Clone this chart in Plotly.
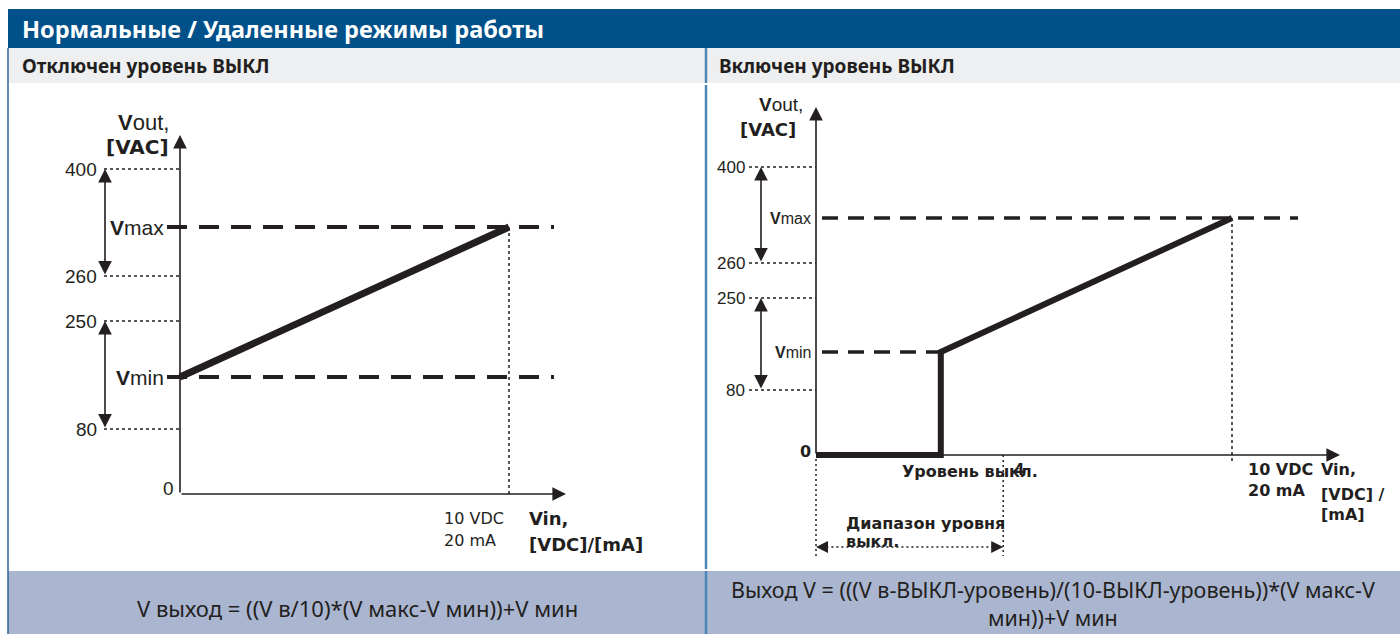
import plotly.graph_objects as go

W, H = 1400, 634
INK = "#231f20"
ARIAL = "Liberation Sans, Arial, sans-serif"
VERD = "DejaVu Sans, Verdana, sans-serif"
HUM = "Noto Sans, sans-serif"

# ---------------- data (schematic levels) ----------------
level_labels = ["400", "260", "250", "80"]
vmax_pair = ("400", "260")     # Vmax adjustable between these levels
vmin_pair = ("250", "80")      # Vmin adjustable between these levels

# left panel: OFF level disabled
left_level_pos = [325, 218, 173, 65]
left_vmin_pos, left_vmax_pos = 117, 267
left_vin = [0, 10]
left_vout = [left_vmin_pos, left_vmax_pos]

# right panel: OFF level enabled
right_level_pos = [288, 192, 157, 65]
right_vmin_pos, right_vmax_pos = 103, 237
vin_full = 10
off_level = 3
off_range_end = 4.5
right_vin = [0, off_level, off_level, vin_full]
right_vout = [0, 0, right_vmin_pos, right_vmax_pos]

header_title = "Нормальные / Удаленные режимы работы"
left_title = "Отключен уровень ВЫКЛ"
right_title = "Включен уровень ВЫКЛ"
left_formula = "V выход = ((V в/10)*(V макс-V мин))+V мин"
right_formula = "Выход V = (((V в-ВЫКЛ-уровень)/(10-ВЫКЛ-уровень))*(V макс-V<br>мин))+V мин"

# ---------------- panel geometry ----------------
L = dict(x0=180, xs=32.9, y0=494, dom=(0, 700), xa="x", ya="y")
R = dict(x0=816, xs=41.6, y0=455, dom=(700, 1400), xa="x2", ya="y2")


def px(P, p):  # horizontal pixel -> data
    return (p - P["x0"]) / P["xs"]


def py(P, p):  # vertical pixel -> data
    return P["y0"] - p


fig = go.Figure()


def line(P, xs, ys, width, dash="solid"):
    fig.add_trace(go.Scatter(x=xs, y=ys, xaxis=P["xa"], yaxis=P["ya"], mode="lines",
                             line=dict(color=INK, width=width, dash=dash),
                             hoverinfo="skip", showlegend=False))


ann = []


def text(P, x, y, t, size, family, xanchor="left", color=INK):
    ann.append(dict(x=x, y=y, xref=P["xa"], yref=P["ya"], text=t, showarrow=False,
                    xanchor=xanchor, yanchor="middle",
                    font=dict(size=size, family=family, color=color)))


def arrow(P, x, y, ax, ay, side="end", width=1.6, size=1.7):
    ann.append(dict(x=x, y=y, ax=ax, ay=ay, xref=P["xa"], yref=P["ya"],
                    axref=P["xa"], ayref=P["ya"], text="", showarrow=True,
                    arrowhead=2, arrowsize=size, arrowwidth=width, arrowcolor=INK,
                    arrowside=side, standoff=0, startstandoff=0))


# ================= LEFT PANEL =================
P = L
# axes
arrow(P, 0, py(P, 135), 0, 0)
arrow(P, px(P, 566), 0, 0, 0)
# level dotted lines & labels
for lab, pos in zip(level_labels, left_level_pos):
    line(P, [px(P, 104), 0], [pos, pos], 1.5, "3px,3px")
    text(P, px(P, 99), pos, lab, 19, ARIAL, "right")
text(P, px(P, 176), py(P, 488), "0", 19, ARIAL, "right")
lp = dict(zip(level_labels, left_level_pos))
arrow(P, px(P, 105), lp[vmax_pair[0]], px(P, 105), lp[vmax_pair[1]], "end+start")
arrow(P, px(P, 105), lp[vmin_pair[0]], px(P, 105), lp[vmin_pair[1]], "end+start")
# Vmax / Vmin dashed
line(P, [px(P, 167), px(P, 554)], [left_vmax_pos] * 2, 4, "20px,12px")
line(P, [px(P, 167), px(P, 554)], [left_vmin_pos] * 2, 4, "20px,12px")
text(P, px(P, 166), left_vmax_pos, "<b>V</b>max", 21, ARIAL, "right")
text(P, px(P, 166), left_vmin_pos, "<b>V</b>min", 21, ARIAL, "right")
# 10 VDC dotted
line(P, [left_vin[1], left_vin[1]], [left_vmax_pos, 0], 1.5, "3px,3px")
# characteristic
line(P, left_vin, left_vout, 7)
# labels
text(P, px(P, 171), py(P, 122), "<b>V</b>out,", 22, ARIAL, "right")
text(P, px(P, 171), py(P, 147), "<b>[VAC]</b>", 20, VERD, "right")
text(P, px(P, 442), py(P, 518), "10 VDC", 16, VERD)
text(P, px(P, 442), py(P, 540), "20 mA", 16, VERD)
text(P, px(P, 527), py(P, 518), "<b>Vin,</b>", 18, VERD)
text(P, px(P, 527), py(P, 544), "<b>[VDC]/[mA]</b>", 18, VERD)

# ================= RIGHT PANEL =================
P = R
arrow(P, 0, py(P, 107), 0, 0)
arrow(P, px(P, 1340), 0, 0, 0)
for lab, pos in zip(level_labels, right_level_pos):
    line(P, [px(P, 749), 0], [pos, pos], 1.5, "3px,3px")
    text(P, px(P, 747), pos, lab, 17, ARIAL, "right")
text(P, px(P, 813), py(P, 451), "<b>0</b>", 16, VERD, "right")
rp = dict(zip(level_labels, right_level_pos))
arrow(P, px(P, 761), rp[vmax_pair[0]], px(P, 761), rp[vmax_pair[1]], "end+start")
arrow(P, px(P, 761), rp[vmin_pair[0]], px(P, 761), rp[vmin_pair[1]], "end+start")
line(P, [px(P, 822), px(P, 1298)], [right_vmax_pos] * 2, 3.5, "16px,10px")
line(P, [px(P, 822), off_level], [right_vmin_pos] * 2, 3.5, "16px,10px")
text(P, px(P, 813), right_vmax_pos, "<b>V</b>max", 16, ARIAL, "right")
text(P, px(P, 813), right_vmin_pos, "<b>V</b>min", 16, ARIAL, "right")
# dotted guides
line(P, [vin_full, vin_full], [right_vmax_pos, py(P, 462)], 1.5, "3px,3px")
line(P, [0, 0], [py(P, 459), py(P, 556)], 1.5, "2px,3px")
line(P, [off_range_end, off_range_end], [0, py(P, 556)], 1.5, "2px,3px")
# OFF range dotted double arrow
yr = py(P, 547)
line(P, [0.25, off_range_end - 0.25], [yr, yr], 1.5, "2px,3px")
arrow(P, 0, yr, 0.3, yr, width=1.2, size=2)
arrow(P, off_range_end, yr, off_range_end - 0.3, yr, width=1.2, size=2)
# characteristic
line(P, right_vin, right_vout, 6)
# labels
text(P, px(P, 805), py(P, 104), "<b>V</b>out,", 19, ARIAL, "right")
text(P, px(P, 798), py(P, 129), "<b>[VAC]</b>", 18, VERD, "right")
text(P, px(P, 970), py(P, 471), "<b>Уровень выкл.</b>", 16, VERD, "center")
text(P, px(P, 1019), py(P, 470), "<b>4</b>", 15, VERD, "center")
text(P, px(P, 844), py(P, 523), "<b>Диапазон уровня</b>", 16, VERD)
text(P, px(P, 844), py(P, 541), "<b>выкл.</b>", 16, VERD)
text(P, px(P, 1246), py(P, 469), "<b>10 VDC</b>", 16, VERD)
text(P, px(P, 1246), py(P, 490), "<b>20 mA</b>", 16, VERD)
text(P, px(P, 1319), py(P, 469), "<b>Vin,</b>", 16, VERD)
text(P, px(P, 1319), py(P, 494), "<b>[VDC] /</b>", 16, VERD)
text(P, px(P, 1319), py(P, 514), "<b>[mA]</b>", 16, VERD)

# ================= FRAME / HEADERS (paper) =================
def X(p):
    return p / W


def Y(p):
    return 1 - p / H


shapes = [
    dict(type="rect", xref="paper", yref="paper", x0=X(8), x1=X(1400), y0=Y(48), y1=Y(9),
         fillcolor="#00508a", line=dict(width=0), layer="below"),
    dict(type="rect", xref="paper", yref="paper", x0=X(8), x1=X(1400), y0=Y(83), y1=Y(48),
         fillcolor="#eeeff1", line=dict(width=0), layer="below"),
    dict(type="rect", xref="paper", yref="paper", x0=X(8), x1=X(1400), y0=Y(634), y1=Y(571),
         fillcolor="#aab6d0", line=dict(width=0), layer="below"),
    dict(type="line", xref="paper", yref="paper", x0=X(8), x1=X(8), y0=Y(48), y1=Y(634),
         line=dict(color="#2d6496", width=1.5), layer="below"),
]
for a, b in [(48, 83), (85, 569), (571, 634)]:
    shapes.append(dict(type="line", xref="paper", yref="paper", x0=X(706), x1=X(706),
                       y0=Y(a), y1=Y(b), line=dict(color="#4a86b6", width=2.5), layer="below"))

ann += [
    dict(x=X(20), y=Y(29), xref="paper", yref="paper", text="<b>" + header_title + "</b>",
         showarrow=False, xanchor="left", yanchor="middle",
         font=dict(size=23.5, family=HUM, color="white")),
    dict(x=X(20), y=Y(66), xref="paper", yref="paper", text="<b>" + left_title + "</b>",
         showarrow=False, xanchor="left", yanchor="middle",
         font=dict(size=19, family=HUM, color=INK)),
    dict(x=X(717), y=Y(66), xref="paper", yref="paper", text="<b>" + right_title + "</b>",
         showarrow=False, xanchor="left", yanchor="middle",
         font=dict(size=19, family=HUM, color=INK)),
    dict(x=X(357), y=Y(608), xref="paper", yref="paper", text=left_formula,
         showarrow=False, xanchor="center", yanchor="middle", borderpad=0,
         font=dict(size=22, family=HUM, color=INK)),
    dict(x=X(1053), y=Y(603), xref="paper", yref="paper", text=right_formula,
         showarrow=False, xanchor="center", yanchor="middle", align="center", borderpad=0,
         font=dict(size=21.5, family=HUM, color=INK)),
]

ax_common = dict(showgrid=False, zeroline=False, showticklabels=False, showline=False,
                 ticks="", fixedrange=True)
fig.update_layout(
    width=W, height=H, margin=dict(l=0, r=0, t=0, b=0),
    paper_bgcolor="white", plot_bgcolor="rgba(0,0,0,0)", showlegend=False,
    xaxis=dict(domain=[L["dom"][0] / W, L["dom"][1] / W],
               range=[px(L, L["dom"][0]), px(L, L["dom"][1])], **ax_common),
    yaxis=dict(domain=[0, 1], range=[L["y0"] - H, L["y0"]], **ax_common),
    xaxis2=dict(domain=[R["dom"][0] / W, R["dom"][1] / W],
                range=[px(R, R["dom"][0]), px(R, R["dom"][1])], anchor="y2", **ax_common),
    yaxis2=dict(domain=[0, 1], range=[R["y0"] - H, R["y0"]], anchor="x2", **ax_common),
    shapes=shapes, annotations=ann,
)

fig.write_html("out.html", config={"displayModeBar": False},
               post_script="document.body.style.margin='0';")
